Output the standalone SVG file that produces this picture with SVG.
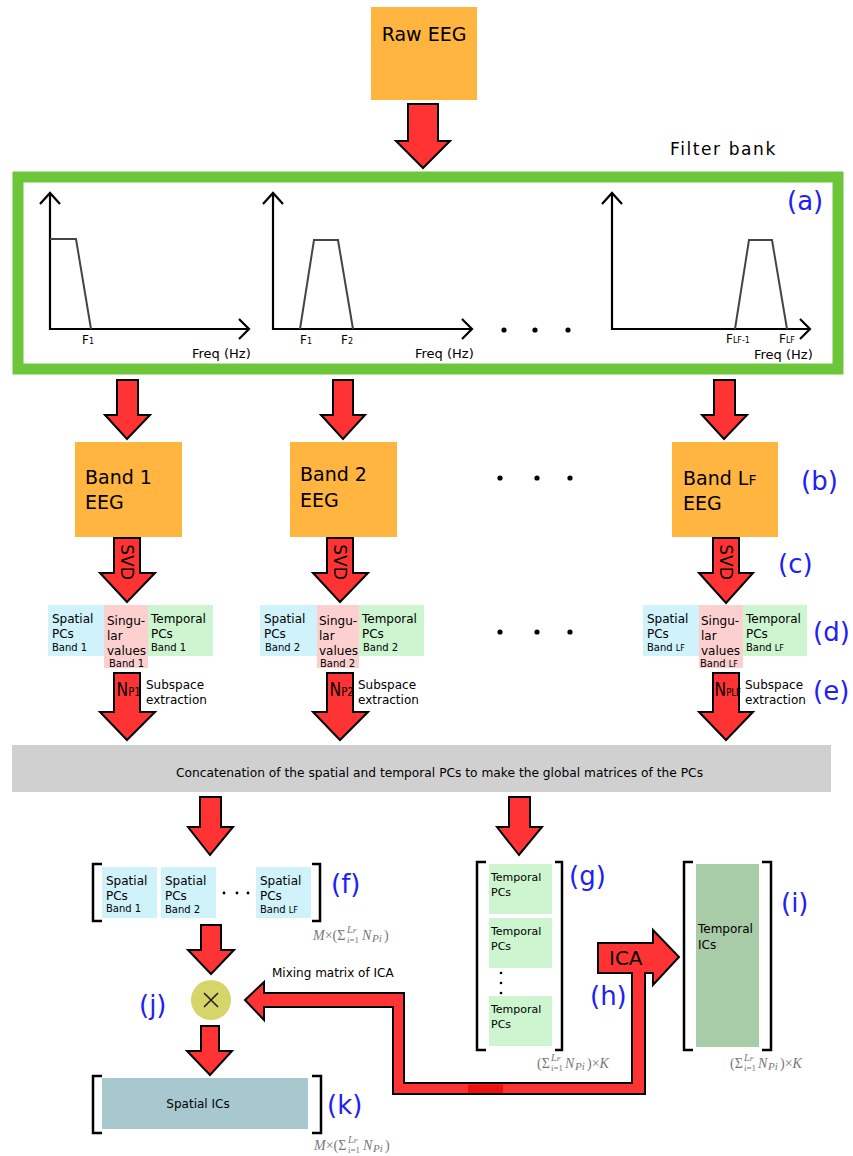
<svg xmlns="http://www.w3.org/2000/svg" width="853" height="1156" viewBox="0 0 853 1156">
<style>
.arr{fill:#ff3333;stroke:#000;stroke-width:2;stroke-linejoin:miter}
.t{font-family:"DejaVu Sans",sans-serif;fill:#000}
.lab{font-family:"DejaVu Sans",sans-serif;fill:#1f1ff5;font-size:26px}
.axis{stroke:#000;stroke-width:2.2;fill:none}
.filt{stroke:#444;stroke-width:2;fill:none}
.br{stroke:#000;stroke-width:2.5;fill:none}
.orange{fill:#ffb53f}
.cyan{fill:#d0f2fb}
.pink{fill:#fdd0d0}
.green{fill:#cdf5cf}
.fm{font-family:"Liberation Serif",serif;fill:#777}
.dot{fill:#000}
</style>
<rect width="853" height="1156" fill="#fff"/>

<g id="raw-eeg">
<rect x="371" y="7" width="106" height="93" class="orange"/>
<text x="424" y="41" class="t" font-size="19" text-anchor="middle">Raw EEG</text>
</g>

<g id="filter-bank">
<rect x="18" y="177" width="820" height="192" fill="#fff" stroke="#6dc63a" stroke-width="11"/>
<text x="670" y="155" class="t" font-size="17" letter-spacing="1.6">Filter bank</text>
<text x="787" y="210" class="lab">(a)</text>
<polyline points="50,193 50,329 249,329" class="axis"/>
<polyline points="40,204 50,193 60,204" class="axis"/>
<polyline points="239,319 249,329 239,339" class="axis"/>
<polyline points="50,239 76,239 91,329" class="filt"/>
<text x="82" y="344" class="t" font-size="12">F<tspan font-size="8">1</tspan></text>
<text x="192" y="358" class="t" font-size="13">Freq (Hz)</text>
<polyline points="273,193 273,329 472,329" class="axis"/>
<polyline points="263,204 273,193 283,204" class="axis"/>
<polyline points="462,319 472,329 462,339" class="axis"/>
<polyline points="300,329 314,240 338,240 353,329" class="filt"/>
<text x="300" y="344" class="t" font-size="12">F<tspan font-size="8">1</tspan></text>
<text x="341" y="344" class="t" font-size="12">F<tspan font-size="8">2</tspan></text>
<text x="415" y="358" class="t" font-size="13">Freq (Hz)</text>
<circle cx="504" cy="330" r="2.6" class="dot"/>
<circle cx="535" cy="330" r="2.6" class="dot"/>
<circle cx="568" cy="330" r="2.6" class="dot"/>
<polyline points="612,193 612,329 810,329" class="axis"/>
<polyline points="602,204 612,193 622,204" class="axis"/>
<polyline points="800,319 810,329 800,339" class="axis"/>
<polyline points="735,329 749,240 772,240 787,329" class="filt"/>
<text x="726" y="343" class="t" font-size="12">F<tspan font-size="8">LF-1</tspan></text>
<text x="779" y="343" class="t" font-size="12">F<tspan font-size="8">LF</tspan></text>
<text x="754" y="359" class="t" font-size="13">Freq (Hz)</text>
</g>

<g id="band1">
<rect x="75" y="442" width="107" height="95" class="orange"/>
<text x="85" y="484" class="t" font-size="19">Band 1</text>
<text x="85" y="509" class="t" font-size="19">EEG</text>
</g>
<g id="band2">
<rect x="290" y="442" width="107" height="95" class="orange"/>
<text x="300" y="481" class="t" font-size="19">Band 2</text>
<text x="300" y="507" class="t" font-size="19">EEG</text>
</g>
<g id="bandLF">
<rect x="672" y="442" width="106" height="95" class="orange"/>
<text x="683" y="485" class="t" font-size="19">Band L<tspan font-size="14">F</tspan></text>
<text x="683" y="510" class="t" font-size="19">EEG</text>
<text x="801" y="490" class="lab">(b)</text>
</g>
<g id="dots-band">
<circle cx="500" cy="478" r="2.6" class="dot"/>
<circle cx="537" cy="478" r="2.6" class="dot"/>
<circle cx="570" cy="478" r="2.6" class="dot"/>
<circle cx="500" cy="632" r="2.6" class="dot"/>
<circle cx="537" cy="632" r="2.6" class="dot"/>
<circle cx="570" cy="632" r="2.6" class="dot"/>
</g>

<g id="svd1">
<rect x="48" y="605" width="56" height="51" class="cyan"/>
<rect x="104" y="605" width="44" height="63" class="pink"/>
<rect x="148" y="605" width="65" height="51" class="green"/>
<text x="52" y="623" class="t" font-size="12">Spatial</text>
<text x="52" y="638" class="t" font-size="12">PCs</text>
<text x="52" y="651" class="t" font-size="10">Band 1</text>
<text x="107" y="625" class="t" font-size="12">Singu-</text>
<text x="107" y="640" class="t" font-size="12">lar</text>
<text x="107" y="655" class="t" font-size="12">values</text>
<text x="109" y="667" class="t" font-size="10">Band 1</text>
<text x="151" y="623" class="t" font-size="12">Temporal</text>
<text x="151" y="638" class="t" font-size="12">PCs</text>
<text x="151" y="651" class="t" font-size="10">Band 1</text>
<text x="146" y="689" class="t" font-size="12">Subspace</text>
<text x="146" y="704" class="t" font-size="12">extraction</text>
</g>
<g id="svd2">
<rect x="260" y="605" width="57" height="51" class="cyan"/>
<rect x="317" y="605" width="42" height="63" class="pink"/>
<rect x="359" y="605" width="65" height="51" class="green"/>
<text x="264" y="623" class="t" font-size="12">Spatial</text>
<text x="264" y="638" class="t" font-size="12">PCs</text>
<text x="265" y="651" class="t" font-size="10">Band 2</text>
<text x="319" y="625" class="t" font-size="12">Singu-</text>
<text x="319" y="640" class="t" font-size="12">lar</text>
<text x="319" y="655" class="t" font-size="12">values</text>
<text x="320" y="667" class="t" font-size="10">Band 2</text>
<text x="362" y="623" class="t" font-size="12">Temporal</text>
<text x="362" y="638" class="t" font-size="12">PCs</text>
<text x="363" y="651" class="t" font-size="10">Band 2</text>
<text x="358" y="689" class="t" font-size="12">Subspace</text>
<text x="358" y="704" class="t" font-size="12">extraction</text>
</g>
<g id="svdLF">
<rect x="643" y="605" width="56" height="51" class="cyan"/>
<rect x="699" y="605" width="44" height="63" class="pink"/>
<rect x="743" y="605" width="64" height="51" class="green"/>
<text x="647" y="623" class="t" font-size="12">Spatial</text>
<text x="647" y="638" class="t" font-size="12">PCs</text>
<text x="647" y="651" class="t" font-size="10">Band <tspan font-size="8">LF</tspan></text>
<text x="701" y="625" class="t" font-size="12">Singu-</text>
<text x="701" y="640" class="t" font-size="12">lar</text>
<text x="701" y="655" class="t" font-size="12">values</text>
<text x="700" y="667" class="t" font-size="10">Band <tspan font-size="8">LF</tspan></text>
<text x="746" y="623" class="t" font-size="12">Temporal</text>
<text x="746" y="638" class="t" font-size="12">PCs</text>
<text x="746" y="651" class="t" font-size="10">Band <tspan font-size="8">LF</tspan></text>
<text x="745" y="689" class="t" font-size="12">Subspace</text>
<text x="745" y="704" class="t" font-size="12">extraction</text>
<text x="778" y="573" class="lab">(c)</text>
<text x="813" y="641" class="lab">(d)</text>
<text x="813" y="700" class="lab">(e)</text>
</g>

<g id="concat">
<rect x="12" y="745" width="819" height="47" fill="#d0d0d0"/>
<text x="176" y="777" class="t" font-size="11.5" textLength="527" lengthAdjust="spacingAndGlyphs">Concatenation of the spatial and temporal PCs to make the global matrices of the PCs</text>
</g>

<g id="spatial-matrix">
<path d="M102,864 H93 V921 H102 M312,864 H320 V921 H312" class="br"/>
<rect x="102" y="867" width="55" height="51" class="cyan"/>
<rect x="161" y="867" width="55" height="51" class="cyan"/>
<rect x="256" y="867" width="55" height="51" class="cyan"/>
<text x="106" y="885" class="t" font-size="12">Spatial</text>
<text x="106" y="900" class="t" font-size="12">PCs</text>
<text x="106" y="912" class="t" font-size="10">Band 1</text>
<text x="165" y="885" class="t" font-size="12">Spatial</text>
<text x="165" y="900" class="t" font-size="12">PCs</text>
<text x="165" y="913" class="t" font-size="10">Band 2</text>
<text x="260" y="885" class="t" font-size="12">Spatial</text>
<text x="260" y="900" class="t" font-size="12">PCs</text>
<text x="260" y="913" class="t" font-size="10">Band <tspan font-size="8">LF</tspan></text>
<circle cx="224" cy="893" r="1.4" class="dot"/>
<circle cx="237" cy="893" r="1.4" class="dot"/>
<circle cx="248" cy="893" r="1.4" class="dot"/>
<text x="331" y="893" class="lab">(f)</text>
<text x="313" y="940" class="fm" font-size="14"><tspan font-style="italic">M</tspan>×(Σ</text>
<text x="347" y="933" class="fm" font-size="10" font-style="italic">L<tspan font-size="7">F</tspan></text>
<text x="347" y="943" class="fm" font-size="9">i=1</text>
<text x="362" y="940" class="fm" font-size="14" font-style="italic">N</text>
<text x="372" y="942" class="fm" font-size="11" font-style="italic">Pi</text>
<text x="384" y="940" class="fm" font-size="14">)</text>
</g>

<g id="temporal-matrix">
<path d="M486,862 H477 V1050 H486 M555,862 H562 V1050 H555" class="br"/>
<rect x="489" y="864" width="63" height="50" class="green"/>
<rect x="489" y="918" width="63" height="50" class="green"/>
<rect x="489" y="996" width="63" height="50" class="green"/>
<text x="491" y="881" class="t" font-size="11">Temporal</text>
<text x="491" y="896" class="t" font-size="11">PCs</text>
<text x="491" y="935" class="t" font-size="11">Temporal</text>
<text x="491" y="950" class="t" font-size="11">PCs</text>
<text x="491" y="1013" class="t" font-size="11">Temporal</text>
<text x="491" y="1028" class="t" font-size="11">PCs</text>
<circle cx="501" cy="973" r="1.3" class="dot"/>
<circle cx="501" cy="983" r="1.3" class="dot"/>
<circle cx="501" cy="993" r="1.3" class="dot"/>
<text x="569" y="885" class="lab">(g)</text>
<text x="537" y="1068" class="fm" font-size="14">(Σ</text>
<text x="551" y="1061" class="fm" font-size="10" font-style="italic">L<tspan font-size="7">F</tspan></text>
<text x="551" y="1071" class="fm" font-size="9">i=1</text>
<text x="565" y="1068" class="fm" font-size="14" font-style="italic">N</text>
<text x="575" y="1070" class="fm" font-size="11" font-style="italic">Pi</text>
<text x="587" y="1068" class="fm" font-size="14">)×<tspan font-style="italic">K</tspan></text>
</g>

<g id="temporal-ics">
<path d="M693,862 H684 V1050 H693 M762,862 H771 V1050 H762" class="br"/>
<rect x="696" y="864" width="63" height="183" fill="#a8cba8"/>
<text x="698" y="933" class="t" font-size="12">Temporal</text>
<text x="698" y="949" class="t" font-size="12">ICs</text>
<text x="781" y="912" class="lab">(i)</text>
<text x="730" y="1068" class="fm" font-size="14">(Σ</text>
<text x="744" y="1061" class="fm" font-size="10" font-style="italic">L<tspan font-size="7">F</tspan></text>
<text x="744" y="1071" class="fm" font-size="9">i=1</text>
<text x="758" y="1068" class="fm" font-size="14" font-style="italic">N</text>
<text x="768" y="1070" class="fm" font-size="11" font-style="italic">Pi</text>
<text x="780" y="1068" class="fm" font-size="14">)×<tspan font-style="italic">K</tspan></text>
</g>

<g id="multiply">
<circle cx="211" cy="1000" r="20" fill="#d5d56a"/>
<path d="M204,993 L218,1007 M218,993 L204,1007" stroke="#222" stroke-width="1.6"/>
<text x="139" y="1014" class="lab">(j)</text>
</g>

<g id="spatial-ics">
<path d="M102,1076 H93 V1133 H102 M312,1076 H321 V1133 H312" class="br"/>
<rect x="102" y="1078" width="206" height="51" fill="#a8c8d0"/>
<text x="198" y="1108" class="t" font-size="12" text-anchor="middle">Spatial ICs</text>
<text x="327" y="1114" class="lab">(k)</text>
<text x="314" y="1150" class="fm" font-size="14"><tspan font-style="italic">M</tspan>×(Σ</text>
<text x="348" y="1143" class="fm" font-size="10" font-style="italic">L<tspan font-size="7">F</tspan></text>
<text x="348" y="1153" class="fm" font-size="9">i=1</text>
<text x="363" y="1150" class="fm" font-size="14" font-style="italic">N</text>
<text x="373" y="1152" class="fm" font-size="11" font-style="italic">Pi</text>
<text x="385" y="1150" class="fm" font-size="14">)</text>
</g>

<g id="connectors">
<polygon class="arr" points="408,104 438,104 438,141 450,141 423,168 396,141 408,141"/>
<polygon class="arr" points="117,380 138,380 138,415 150,415 127,439 105,415 117,415"/>
<polygon class="arr" points="333,380 353,380 353,415 365,415 343,439 321,415 333,415"/>
<polygon class="arr" points="714,380 735,380 735,415 747,415 724,439 702,415 714,415"/>
<polygon class="arr" points="114,538 140,538 140,573 155,573 127,602 100,573 114,573"/>
<polygon class="arr" points="327,538 353,538 353,573 368,573 340,602 313,573 327,573"/>
<polygon class="arr" points="713,538 739,538 739,573 753,573 726,603 699,573 713,573"/>
<text class="t" font-size="17" transform="translate(127,562) rotate(90)" text-anchor="middle" dominant-baseline="central">SVD</text>
<text class="t" font-size="17" transform="translate(340,562) rotate(90)" text-anchor="middle" dominant-baseline="central">SVD</text>
<text class="t" font-size="17" transform="translate(726,562) rotate(90)" text-anchor="middle" dominant-baseline="central">SVD</text>
<polygon class="arr" points="114,673 140,673 140,712 155,712 127,740 100,712 114,712"/>
<polygon class="arr" points="327,673 353,673 353,712 368,712 340,740 313,712 327,712"/>
<polygon class="arr" points="713,673 739,673 739,712 753,712 726,740 699,712 713,712"/>
<text class="t" font-size="20" transform="translate(116.5,696) scale(0.78,1)">N<tspan font-size="13">P1</tspan></text>
<text class="t" font-size="20" transform="translate(329.5,696) scale(0.78,1)">N<tspan font-size="13">P2</tspan></text>
<text class="t" font-size="20" transform="translate(714.5,696) scale(0.78,1)">N<tspan font-size="11">PLF</tspan></text>
<polygon class="arr" points="200,797 221,797 221,827 233,827 210,855 188,827 200,827"/>
<polygon class="arr" points="509,797 530,797 530,827 542,827 519,855 497,827 509,827"/>
<polygon class="arr" points="201,925 221,925 221,950 234,950 211,974 188,950 201,950"/>
<polygon class="arr" points="201,1026 219,1026 219,1051 232,1051 210,1075 187,1051 201,1051"/>
<polygon class="arr" points="245,1000 264,982 264,993 404,993 404,1083 632,1083 632,973 598,973 598,943 653,943 653,930 679,957 653,985 653,973 645,973 645,1094 393,1094 393,1007 264,1007 264,1020"/>
<rect x="468" y="1084.5" width="35" height="8.5" fill="#ee1010"/>
<text x="609" y="965" class="t" font-size="20">ICA</text>
<text x="590" y="1005" class="lab">(h)</text>
<text x="272" y="977" class="t" font-size="12">Mixing matrix of ICA</text>
</g>
</svg>
